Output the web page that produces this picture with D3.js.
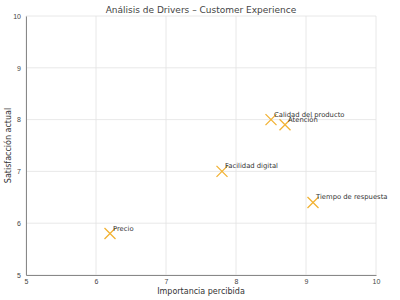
<!DOCTYPE html>
<html>
<head>
<meta charset="utf-8">
<script src="https://cdn.jsdelivr.net/npm/d3@7"></script>
<style>
  body { margin: 0; background: #fff; }
  svg { font-family: "DejaVu Sans", sans-serif; }
  .grid line { stroke: #e2e2e2; stroke-width: 0.8; }
  .axis path { stroke: #888; }
  .axis text { fill: #444; font-size: 7px; }
</style>
</head>
<body>
<div id="chart"></div>
<script>
const drivers = ["Precio", "Facilidad digital", "Calidad del producto", "Atención", "Tiempo de respuesta"];
const importancia = [6.2, 7.8, 8.5, 8.7, 9.1];
const satisfaccion = [5.8, 7.0, 8.0, 7.9, 6.4];
const ticks = [5, 6, 7, 8, 9, 10];

const data = drivers.map((d, i) => ({name: d, x: importancia[i], y: satisfaccion[i]}));

const margin = {top: 16, right: 24, bottom: 25, left: 26};
const width = 400 - margin.left - margin.right;
const height = 300 - margin.top - margin.bottom;

const svg = d3.select("#chart")
    .append("svg")
    .attr("width", 400)
    .attr("height", 300);

const g = svg.append("g")
    .attr("transform", `translate(${margin.left}, ${margin.top})`);

const x = d3.scaleLinear().domain([5, 10]).range([0, width]);
const y = d3.scaleLinear().domain([5, 10]).range([height, 0]);

// grid
g.append("g").attr("class", "grid")
    .selectAll("line.v").data(ticks).enter().append("line")
    .attr("x1", d => x(d)).attr("x2", d => x(d))
    .attr("y1", 0).attr("y2", height);
g.append("g").attr("class", "grid")
    .selectAll("line.h").data(ticks).enter().append("line")
    .attr("x1", 0).attr("x2", width)
    .attr("y1", d => y(d)).attr("y2", d => y(d));

// axes
g.append("g").attr("class", "axis")
    .attr("transform", `translate(0, ${height})`)
    .call(d3.axisBottom(x).tickValues(ticks).tickSize(0).tickPadding(4).tickFormat(d3.format("d")));
g.append("g").attr("class", "axis")
    .call(d3.axisLeft(y).tickValues(ticks).tickSize(0).tickPadding(5).tickFormat(d3.format("d")));

// markers
const s = 5.5;
const pts = g.selectAll(".pt").data(data).enter().append("g")
    .attr("class", "pt")
    .attr("transform", d => `translate(${x(d.x)}, ${y(d.y)})`);
pts.append("path")
    .attr("d", `M${-s},${-s}L${s},${s}M${-s},${s}L${s},${-s}`)
    .attr("stroke", "#f2b233")
    .attr("stroke-width", 1.3)
    .attr("fill", "none");
pts.append("text")
    .attr("x", 3)
    .attr("y", -3)
    .attr("font-size", 6.8)
    .attr("fill", "#333")
    .text(d => d.name);

// title & labels
svg.append("text")
    .attr("x", margin.left + width / 2)
    .attr("y", 13)
    .attr("text-anchor", "middle")
    .attr("font-size", 9)
    .attr("fill", "#444")
    .text("Análisis de Drivers – Customer Experience");

svg.append("text")
    .attr("x", margin.left + width / 2)
    .attr("y", 294)
    .attr("text-anchor", "middle")
    .attr("font-size", 8)
    .attr("fill", "#333")
    .text("Importancia percibida");

svg.append("text")
    .attr("transform", `translate(11, ${margin.top + height / 2}) rotate(-90)`)
    .attr("text-anchor", "middle")
    .attr("font-size", 8)
    .attr("fill", "#333")
    .text("Satisfacción actual");
</script>
</body>
</html>
